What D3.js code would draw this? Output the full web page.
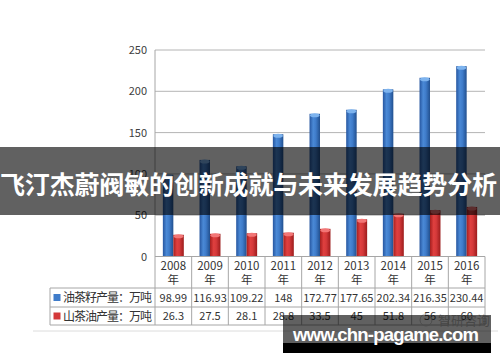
<!DOCTYPE html>
<html>
<head>
<meta charset="utf-8">
<style>
    body { margin: 0; background: #fff; }
    svg { display: block; font-family: "Noto Sans CJK SC", "DejaVu Sans", sans-serif; }
</style>
</head>
<body>
<svg width="500" height="362"></svg>
<script src="https://d3js.org/d3.v7.min.js"></script>
<script>
// data
let years = ["2008", "2009", "2010", "2011", "2012", "2013", "2014", "2015", "2016"]
let seedOutput = [98.99, 116.93, 109.22, 148, 172.77, 177.65, 202.34, 216.35, 230.44]
let oilOutput = [26.3, 27.5, 28.1, 28.8, 33.5, 45, 51.8, 56, 60]
let seedLabels = ["98.99", "116.93", "109.22", "148", "172.77", "177.65", "202.34", "216.35", "230.44"]
let oilLabels = ["26.3", "27.5", "28.1", "28.8", "33.5", "45", "51.8", "56", "60"]
let seriesNames = ["油茶籽产量：万吨", "山茶油产量：万吨"]
let yTicks = [0, 50, 100, 150, 200, 250]
let title = "飞汀杰蔚阀敏的创新成就与未来发展趋势分析"
let site = "www.chn-pagame.com"

let svg = d3.select("svg")

let plotLeft = 155, plotRight = 485, plotTop = 50, plotBase = 256.5
let tableLeft = 50
let rowY = [256.5, 288, 307, 325]

let x = d3.scaleBand().domain(years).range([plotLeft, plotRight]).padding(0)
let xSub = d3.scaleBand().domain(["seed", "oil"]).range([0, x.bandwidth()])
    .paddingInner(0).paddingOuter(0.75)
let y = d3.scaleLinear().domain([0, 250]).range([plotBase, plotTop])

// gradients for the cylinder look
let defs = svg.append("defs")
function grad(id, stops) {
    let g = defs.append("linearGradient").attr("id", id)
        .attr("x1", "0%").attr("x2", "100%").attr("y1", "0%").attr("y2", "0%")
    stops.forEach(s => g.append("stop").attr("offset", s[0]).attr("stop-color", s[1]))
}
grad("blueG", [["0%", "#2656a0"], ["35%", "#4a89d6"], ["60%", "#3f7cca"], ["100%", "#22508f"]])
grad("redG", [["0%", "#a51f1f"], ["35%", "#e0403f"], ["60%", "#d4393a"], ["100%", "#9c1c1c"]])

// gridlines
svg.selectAll(".grid")
    .data(yTicks.filter(d => d > 0))
    .join("line")
    .attr("x1", plotLeft).attr("x2", plotRight)
    .attr("y1", d => y(d)).attr("y2", d => y(d))
    .style("stroke", "#b4b4b4")
    .style("stroke-width", 1)

// y labels
svg.selectAll(".ylab")
    .data(yTicks)
    .join("text")
    .attr("x", 147)
    .attr("y", d => y(d) + 4)
    .attr("text-anchor", "end")
    .style("font-size", "11px")
    .style("fill", "#404040")
    .text(d => d)

// bars
let series = [
    { key: "seed", values: seedOutput, fill: "url(#blueG)", cap: "#7db3ee" },
    { key: "oil", values: oilOutput, fill: "url(#redG)", cap: "#f27676" }
]

series.forEach(s => {
    let g = svg.append("g")
    g.selectAll("rect")
        .data(s.values)
        .join("rect")
        .attr("x", (d, i) => x(years[i]) + xSub(s.key))
        .attr("y", d => y(d))
        .attr("width", xSub.bandwidth())
        .attr("height", d => plotBase - y(d))
        .style("fill", s.fill)
    g.selectAll("ellipse")
        .data(s.values)
        .join("ellipse")
        .attr("cx", (d, i) => x(years[i]) + xSub(s.key) + xSub.bandwidth() / 2)
        .attr("cy", d => y(d) + 1.5)
        .attr("rx", xSub.bandwidth() / 2 - 0.5)
        .attr("ry", 2)
        .style("fill", s.cap)
})

// table lines
let lineCol = "#a6a6a6"
svg.append("line").attr("x1", plotLeft).attr("x2", plotLeft).attr("y1", plotTop).attr("y2", rowY[3])
    .style("stroke", lineCol)
rowY.forEach((ry, i) => {
    svg.append("line")
        .attr("x1", i == 0 ? plotLeft : tableLeft).attr("x2", plotRight)
        .attr("y1", ry).attr("y2", ry)
        .style("stroke", lineCol)
})
svg.append("line").attr("x1", tableLeft).attr("x2", tableLeft).attr("y1", rowY[1]).attr("y2", rowY[3])
    .style("stroke", lineCol)
svg.selectAll(".col")
    .data(years)
    .join("line")
    .attr("x1", d => x(d) + x.bandwidth()).attr("x2", d => x(d) + x.bandwidth())
    .attr("y1", rowY[0]).attr("y2", rowY[3])
    .style("stroke", lineCol)

// year header
let hdr = svg.selectAll(".yr")
    .data(years)
    .join("text")
    .attr("text-anchor", "middle")
    .style("font-size", "11.5px")
    .style("fill", "#333")
hdr.append("tspan").attr("x", d => x(d) + x.bandwidth() / 2).attr("y", 270).text(d => d)
hdr.append("tspan").attr("x", d => x(d) + x.bandwidth() / 2).attr("y", 284).text("年")

// value rows
;[seedLabels, oilLabels].forEach((labels, r) => {
    svg.selectAll(".v" + r)
        .data(labels)
        .join("text")
        .attr("x", (d, i) => x(years[i]) + x.bandwidth() / 2)
        .attr("y", (rowY[r + 1] + rowY[r + 2]) / 2 + 4)
        .attr("text-anchor", "middle")
        .style("font-size", "11px")
        .style("fill", "#333")
        .text(d => d)
})

// legend keys
let keyCols = ["#3f7cca", "#d4393a"]
seriesNames.forEach((name, r) => {
    let cy = (rowY[r + 1] + rowY[r + 2]) / 2
    svg.append("rect")
        .attr("x", 53.5).attr("y", cy - 3.5)
        .attr("width", 7).attr("height", 7)
        .style("fill", keyCols[r])
    svg.append("text")
        .attr("x", 63).attr("y", cy + 4.5)
        .attr("textLength", 89)
        .style("font-size", "12px")
        .style("fill", "#333")
        .text(name)
})

// faint rule under the table
svg.append("line").attr("x1", 33).attr("x2", 498).attr("y1", 331).attr("y2", 331)
    .style("stroke", "#dcdcdc")

// faint source mark
svg.append("circle").attr("cx", 426).attr("cy", 320).attr("r", 6)
    .style("fill", "none").style("stroke", "#c8c8c8")
svg.append("text").attr("x", 438).attr("y", 325)
    .style("font-size", "13px").style("fill", "#bbb")
    .text("智研咨询")

// title banner
svg.append("rect").attr("x", 0).attr("y", 147).attr("width", 500).attr("height", 68)
    .style("fill", "#000").style("opacity", 0.62)
svg.append("text")
    .attr("x", 0).attr("y", 194)
    .attr("textLength", 497)
    .style("font-size", "25px")
    .style("font-weight", "bold")
    .style("fill", "#fff")
    .text(title)

// site banner
svg.append("rect").attr("x", 283).attr("y", 315).attr("width", 208).attr("height", 28)
    .style("fill", "#000").style("opacity", 0.62)
svg.append("rect").attr("x", 283).attr("y", 343).attr("width", 208).attr("height", 10)
    .style("fill", "#000")
svg.append("text")
    .attr("x", 293).attr("y", 340.5)
    .attr("textLength", 186)
    .style("font-size", "18.5px")
    .style("font-weight", "bold")
    .style("font-family", "'Liberation Sans', Arial, sans-serif")
    .style("fill", "#fff")
    .text(site)
</script>
</body>
</html>
